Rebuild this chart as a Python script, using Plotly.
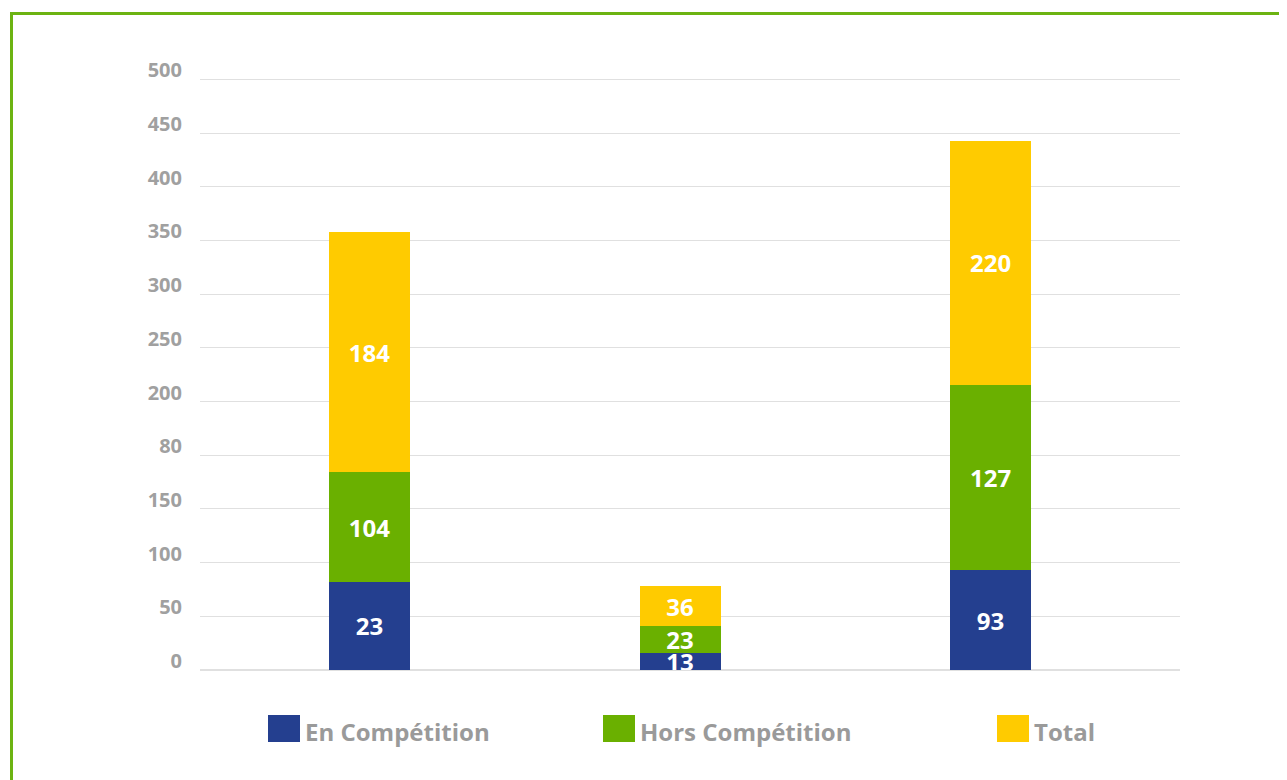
import plotly.graph_objects as go

# données (hauteurs des barres) et étiquettes affichées
groupes = [0, 1, 2]
en_competition = [82, 16, 93]
hors_competition = [102, 25, 172]
total = [224, 37, 228]

txt_en = ["23", "13", "93"]
txt_hors = ["104", "23", "127"]
txt_total = ["184", "36", "220"]

tick_vals = [0, 50, 100, 150, 200, 250, 300, 350, 400, 450, 500, 550]
tick_text = ["0", "50", "100", "150", "80", "200", "250", "300", "350", "400", "450", "500"]

noms = ["En Compétition", "Hors Compétition", "Total"]
couleurs = ["#243f8f", "#6ab000", "#ffcb00"]

W, H = 1287, 780
OFF = 8  # marge du body de la page
YMAX = 554
pw = 980
ph = 591 / 550 * YMAX
L = 200 - OFF
T = round(670 - OFF - ph)
R, B = W - L - pw, H - T - round(ph)
ph = H - T - B


def px_x(x):
    return (x - OFF - L) / pw


def px_y(y):
    return (T + ph - (y - OFF)) / ph


fig = go.Figure()
for vals, txt, nom, coul in zip([en_competition, hors_competition, total],
                                [txt_en, txt_hors, txt_total], noms, couleurs):
    fig.add_trace(go.Bar(
        x=groupes, y=vals, name=nom, text=txt, marker_color=coul,
        marker_line_width=0, width=0.261,
        textposition="inside", insidetextanchor="middle", textangle=0,
        textfont=dict(color="white", size=24, family="Open Sans", weight="bold"),
        cliponaxis=True, showlegend=False,
    ))

# légende dessinée à la main (carrés plus grands que ceux de plotly)
leg_x = [268, 603, 997]
shapes = []
annotations = []
for x0, nom, coul in zip(leg_x, noms, couleurs):
    shapes.append(dict(type="rect", xref="paper", yref="paper",
                       x0=px_x(x0), x1=px_x(x0 + 32), y0=px_y(742), y1=px_y(715),
                       fillcolor=coul, line_width=0))
    annotations.append(dict(xref="paper", yref="paper", x=px_x(x0 + 35), y=px_y(731),
                            xanchor="left", yanchor="middle", showarrow=False, text=nom,
                            font=dict(size=24, color="#9a9a9a", family="Open Sans",
                                      weight="bold")))

# cadre vert
shapes.append(dict(type="rect", xref="paper", yref="paper",
                   x0=px_x(11.5), x1=px_x(1300), y0=px_y(800), y1=px_y(13.5),
                   line=dict(color="#6cb312", width=3), fillcolor="rgba(0,0,0,0)"))

fig.update_layout(
    width=W, height=H, barmode="stack",
    margin=dict(l=L, r=R, t=T, b=B),
    paper_bgcolor="white", plot_bgcolor="white",
    font=dict(family="Open Sans", color="#9a9a9a"),
    shapes=shapes, annotations=annotations,
    uniformtext=dict(minsize=24, mode="show"),
    xaxis=dict(range=[-0.546, 2.61], visible=False, fixedrange=True),
    yaxis=dict(range=[0, YMAX], tickvals=tick_vals, ticktext=tick_text,
               showgrid=True, gridcolor="#e0e0e0", gridwidth=1,
               zeroline=True, zerolinecolor="#e0e0e0",
               tickfont=dict(size=20, color="#a0a0a0", family="Open Sans", weight="bold"),
               ticklabelstandoff=17, ticklabelshift=-9, ticks=""),
)

fig.write_html("out.html")
